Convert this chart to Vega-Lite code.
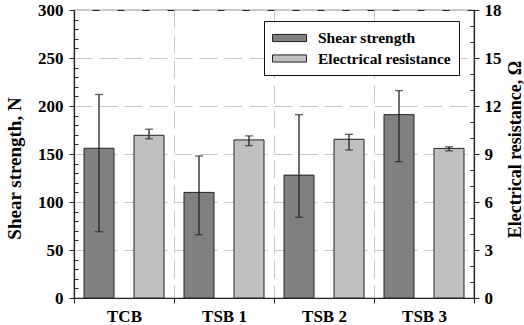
{
  "$schema": "https://vega.github.io/schema/vega-lite/v6.json",
  "width": 400,
  "height": 288,
  "autosize": {"type": "none"},
  "padding": {"left": 74, "top": 10, "right": 50, "bottom": 27},
  "background": "white",
  "config": {
    "font": "Liberation Serif",
    "view": {"stroke": "#222", "strokeWidth": 1.2},
    "axis": {
      "labelFont": "Liberation Serif",
      "labelFontWeight": "bold",
      "labelColor": "black",
      "titleFont": "Liberation Serif",
      "titleFontWeight": "bold",
      "titleColor": "black",
      "domainColor": "#222",
      "domainWidth": 1.2,
      "tickColor": "#222",
      "gridColor": "#c8c8c8",
      "gridDash": [18, 7],
      "gridWidth": 1
    },
    "legend": {
      "labelFont": "Liberation Serif",
      "labelFontWeight": "bold",
      "labelColor": "black"
    }
  },
  "data": {
    "values": [
      {"group": "TCB", "series": "Shear strength", "value": 156, "lo": 69, "hi": 212},
      {"group": "TSB 1", "series": "Shear strength", "value": 110, "lo": 66, "hi": 148},
      {"group": "TSB 2", "series": "Shear strength", "value": 128, "lo": 84, "hi": 191},
      {"group": "TSB 3", "series": "Shear strength", "value": 191, "lo": 142, "hi": 216},
      {"group": "TCB", "series": "Electrical resistance", "value": 10.17, "lo": 9.95, "hi": 10.55},
      {"group": "TSB 1", "series": "Electrical resistance", "value": 9.88, "lo": 9.52, "hi": 10.13},
      {"group": "TSB 2", "series": "Electrical resistance", "value": 9.92, "lo": 9.25, "hi": 10.23},
      {"group": "TSB 3", "series": "Electrical resistance", "value": 9.35, "lo": 9.2, "hi": 9.45}
    ]
  },
  "encoding": {
    "x": {
      "field": "group",
      "type": "nominal",
      "scale": {"domain": ["TCB", "TSB 1", "TSB 2", "TSB 3"], "paddingInner": 0, "paddingOuter": 0},
      "axis": {
        "title": null,
        "labelAngle": 0,
        "labelFontSize": 17,
        "labelPadding": 5,
        "tickBand": "extent",
        "tickSize": 5,
        "grid": true
      }
    },
    "xOffset": {
      "field": "series",
      "type": "nominal",
      "scale": {"domain": ["Shear strength", "Electrical resistance"], "paddingInner": 0.4, "paddingOuter": 0.2}
    }
  },
  "layer": [
    {
      "transform": [{"filter": "datum.series === 'Shear strength'"}],
      "mark": {"type": "bar", "stroke": "#222", "strokeWidth": 1},
      "encoding": {
        "y": {
          "field": "value",
          "type": "quantitative",
          "scale": {"domain": [0, 300], "nice": false},
          "axis": {
            "orient": "left",
            "values": [0, 50, 100, 150, 200, 250, 300],
            "labelFontSize": 17,
            "labelPadding": 6,
            "tickSize": 5,
            "grid": true,
            "title": "Shear strength, N",
            "titleFontSize": 19,
            "titleAngle": -90,
            "titleBaseline": "middle",
            "titleX": -60,
            "titleY": 158
          }
        },
        "color": {
          "field": "series",
          "type": "nominal",
          "scale": {"domain": ["Shear strength", "Electrical resistance"], "range": ["#808080", "#c0c0c0"]},
          "legend": {
            "title": null,
            "orient": "none",
            "legendX": 190,
            "legendY": 11,
            "strokeColor": "#111",
            "fillColor": "white",
            "padding": 8,
            "symbolType": "M-1,-0.42H3V0.42H-1Z",
            "symbolSize": 289,
            "symbolStrokeColor": "#222",
            "symbolStrokeWidth": 1,
            "symbolOpacity": 1,
            "labelFont": "Liberation Serif",
            "labelFontWeight": "bold",
            "labelColor": "black",
            "labelFontSize": 15.5,
            "labelOffset": 28,
            "rowPadding": 2.5,
            "encode": {
              "labels": {
                "update": {
                  "font": {"value": "Liberation Serif"},
                  "fontWeight": {"value": "bold"},
                  "fontSize": {"value": 15.5}
                }
              }
            }
          }
        }
      }
    },
    {
      "transform": [{"filter": "datum.series === 'Shear strength'"}],
      "mark": {"type": "rule", "color": "#222", "strokeWidth": 1.3},
      "encoding": {
        "y": {
          "field": "lo",
          "type": "quantitative",
          "scale": {"domain": [0, 300], "nice": false},
          "axis": {
            "orient": "left",
            "values": [10, 20, 30, 40, 60, 70, 80, 90, 110, 120, 130, 140, 160, 170, 180, 190, 210, 220, 230, 240, 260, 270, 280, 290],
            "labels": false,
            "domain": false,
            "grid": false,
            "tickSize": -4,
            "title": null
          }
        },
        "y2": {"field": "hi"}
      }
    },
    {
      "transform": [{"filter": "datum.series === 'Shear strength'"}],
      "mark": {"type": "tick", "orient": "horizontal", "color": "#222", "size": 8, "thickness": 1.3},
      "encoding": {
        "y": {"field": "hi", "type": "quantitative", "scale": {"domain": [0, 300], "nice": false}, "axis": null}
      }
    },
    {
      "transform": [{"filter": "datum.series === 'Shear strength'"}],
      "mark": {"type": "tick", "orient": "horizontal", "color": "#222", "size": 8, "thickness": 1.3},
      "encoding": {
        "y": {"field": "lo", "type": "quantitative", "scale": {"domain": [0, 300], "nice": false}, "axis": null}
      }
    },
    {
      "transform": [{"filter": "datum.series === 'Electrical resistance'"}],
      "mark": {"type": "bar", "stroke": "#222", "strokeWidth": 1},
      "encoding": {
        "y": {
          "field": "value",
          "type": "quantitative",
          "scale": {"domain": [0, 18], "nice": false},
          "axis": {
            "orient": "right",
            "values": [0, 3, 6, 9, 12, 15, 18],
            "labelFontSize": 17,
            "labelPadding": 5,
            "tickSize": 5,
            "grid": false,
            "title": "Electrical resistance, Ω",
            "titleFontSize": 18,
            "titleAngle": -90,
            "titleBaseline": "middle",
            "titleX": 41,
            "titleY": 139
          }
        },
        "color": {"field": "series", "type": "nominal"}
      }
    },
    {
      "transform": [{"filter": "datum.series === 'Electrical resistance'"}],
      "mark": {"type": "rule", "color": "#222", "strokeWidth": 1.3},
      "encoding": {
        "y": {
          "field": "lo",
          "type": "quantitative",
          "scale": {"domain": [0, 18], "nice": false},
          "axis": {
            "orient": "right",
            "values": [1, 2, 4, 5, 7, 8, 10, 11, 13, 14, 16, 17],
            "labels": false,
            "domain": false,
            "grid": false,
            "tickSize": -4,
            "title": null
          }
        },
        "y2": {"field": "hi"}
      }
    },
    {
      "transform": [{"filter": "datum.series === 'Electrical resistance'"}],
      "mark": {"type": "tick", "orient": "horizontal", "color": "#222", "size": 8, "thickness": 1.3},
      "encoding": {
        "y": {"field": "hi", "type": "quantitative", "scale": {"domain": [0, 18], "nice": false}, "axis": null}
      }
    },
    {
      "transform": [{"filter": "datum.series === 'Electrical resistance'"}],
      "mark": {"type": "tick", "orient": "horizontal", "color": "#222", "size": 8, "thickness": 1.3},
      "encoding": {
        "y": {"field": "lo", "type": "quantitative", "scale": {"domain": [0, 18], "nice": false}, "axis": null}
      }
    }
  ],
  "resolve": {"scale": {"y": "independent"}}
}
